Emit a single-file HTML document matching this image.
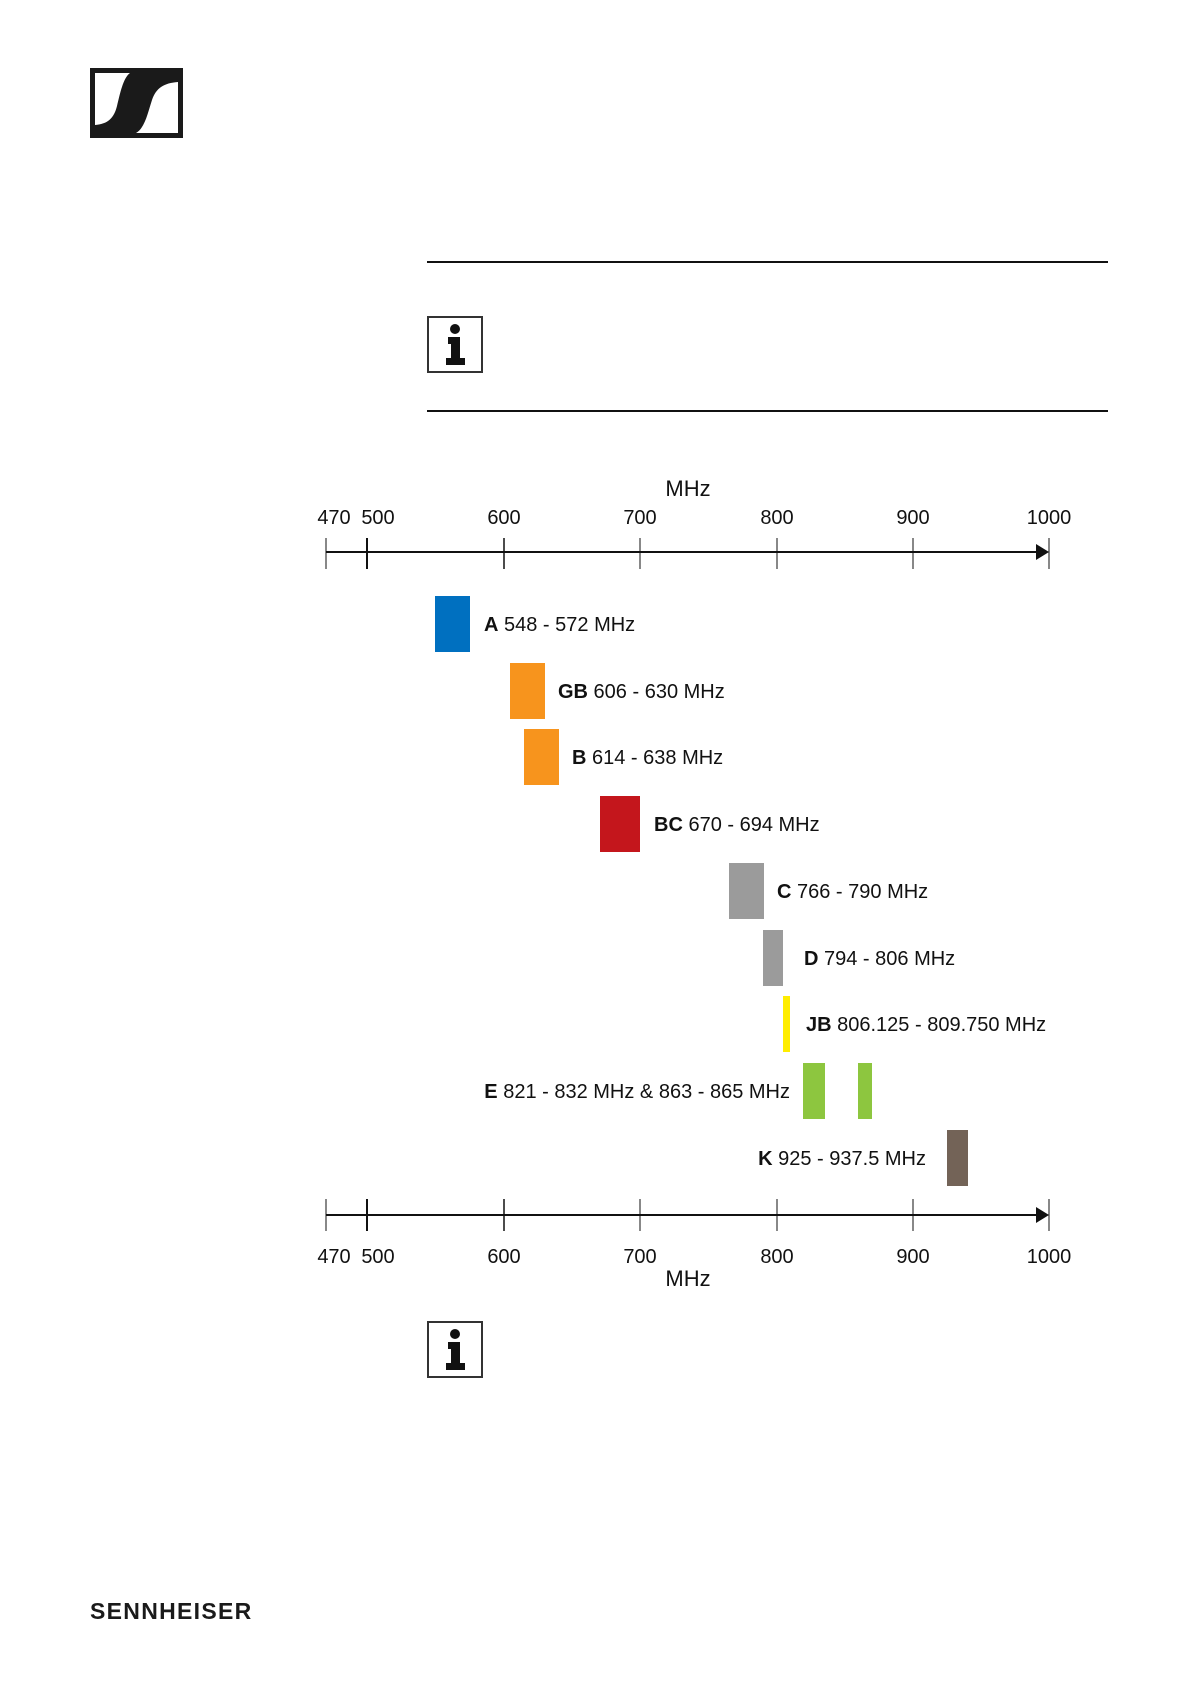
<!DOCTYPE html>
<html><head><meta charset="utf-8"><style>
body{margin:0;background:#fff;}
#p{position:relative;width:1191px;height:1684px;overflow:hidden;font-family:"Liberation Sans",sans-serif;color:#111;}
.a{position:absolute;}
.t{position:absolute;font-size:20px;white-space:nowrap;line-height:1;}
.c{transform:translateX(-50%);}
.r{transform:translateX(-100%);}
.bar{position:absolute;height:56px;}
</style></head><body><div id="p">
<svg class="a" style="left:90px;top:68px" width="93" height="70" viewBox="0 0 93 70">
<rect x="0" y="0" width="93" height="70" fill="#1a1a1a"/>
<path d="M5 5 H40 C33 10 30 26 27 38 C24 50 18 56 5 57 Z" fill="#fff"/>
<path d="M88 65 H46 C55 60 58 44 62 32 C66 20 74 15 88 14 Z" fill="#fff"/>
</svg>
<div class="a" style="left:427px;top:261px;width:681px;height:2px;background:#111"></div>
<div class="a" style="left:427px;top:410px;width:681px;height:2px;background:#111"></div>
<svg class="a" style="left:427px;top:316px" width="56" height="57"><rect x="1" y="1" width="54" height="55" fill="#fff" stroke="#333" stroke-width="2"/><circle cx="28" cy="13" r="5" fill="#111"/><path d="M21 21h12v21h5v7H19v-7h5V28h-3z" fill="#111"/></svg>
<svg class="a" style="left:427px;top:1321px" width="56" height="57"><rect x="1" y="1" width="54" height="55" fill="#fff" stroke="#333" stroke-width="2"/><circle cx="28" cy="13" r="5" fill="#111"/><path d="M21 21h12v21h5v7H19v-7h5V28h-3z" fill="#111"/></svg>

<svg class="a" style="left:0;top:0" width="1191" height="1684">
<g stroke="#111" stroke-width="2">
<line x1="326" y1="552" x2="1040" y2="552"/>
<line x1="326" y1="538" x2="326" y2="569" stroke-width="1"/>
<line x1="367" y1="538" x2="367" y2="569"/>
<line x1="504" y1="538" x2="504" y2="569" stroke-width="1.5"/>
<line x1="640" y1="538" x2="640" y2="569" stroke-width="1"/>
<line x1="777" y1="538" x2="777" y2="569" stroke-width="1"/>
<line x1="913" y1="538" x2="913" y2="569" stroke-width="1"/>
<line x1="1049" y1="538" x2="1049" y2="569" stroke-width="1"/>
<line x1="326" y1="1215" x2="1040" y2="1215"/>
<line x1="326" y1="1199" x2="326" y2="1231" stroke-width="1"/>
<line x1="367" y1="1199" x2="367" y2="1231"/>
<line x1="504" y1="1199" x2="504" y2="1231" stroke-width="1.5"/>
<line x1="640" y1="1199" x2="640" y2="1231" stroke-width="1"/>
<line x1="777" y1="1199" x2="777" y2="1231" stroke-width="1"/>
<line x1="913" y1="1199" x2="913" y2="1231" stroke-width="1"/>
<line x1="1049" y1="1199" x2="1049" y2="1231" stroke-width="1"/>
</g>
<polygon points="1036,544 1049,552 1036,560" fill="#111"/>
<polygon points="1036,1207 1049,1215 1036,1223" fill="#111"/>
</svg>

<div class="t c" style="left:688px;top:478px;font-size:22px">MHz</div>
<div class="t c" style="left:334px;top:508px">470</div>
<div class="t c" style="left:378px;top:508px">500</div>
<div class="t c" style="left:504px;top:508px">600</div>
<div class="t c" style="left:640px;top:508px">700</div>
<div class="t c" style="left:777px;top:508px">800</div>
<div class="t c" style="left:913px;top:508px">900</div>
<div class="t c" style="left:1049px;top:508px">1000</div>

<div class="t c" style="left:334px;top:1247px">470</div>
<div class="t c" style="left:378px;top:1247px">500</div>
<div class="t c" style="left:504px;top:1247px">600</div>
<div class="t c" style="left:640px;top:1247px">700</div>
<div class="t c" style="left:777px;top:1247px">800</div>
<div class="t c" style="left:913px;top:1247px">900</div>
<div class="t c" style="left:1049px;top:1247px">1000</div>
<div class="t c" style="left:688px;top:1268px;font-size:22px">MHz</div>

<div class="bar" style="left:435px;top:596px;width:35px;background:#0070c0"></div>
<div class="t" style="left:484px;top:615px"><b>A</b> 548 - 572 MHz</div>
<div class="bar" style="left:510px;top:663px;width:35px;background:#f7941d"></div>
<div class="t" style="left:558px;top:682px"><b>GB</b> 606 - 630 MHz</div>
<div class="bar" style="left:524px;top:729px;width:35px;background:#f7941d"></div>
<div class="t" style="left:572px;top:748px"><b>B</b> 614 - 638 MHz</div>
<div class="bar" style="left:600px;top:796px;width:40px;background:#c4161c"></div>
<div class="t" style="left:654px;top:815px"><b>BC</b> 670 - 694 MHz</div>
<div class="bar" style="left:729px;top:863px;width:35px;background:#9b9b9b"></div>
<div class="t" style="left:777px;top:882px"><b>C</b> 766 - 790 MHz</div>
<div class="bar" style="left:763px;top:930px;width:20px;background:#9b9b9b"></div>
<div class="t" style="left:804px;top:949px"><b>D</b> 794 - 806 MHz</div>
<div class="bar" style="left:783px;top:996px;width:7px;background:#ffed00"></div>
<div class="t" style="left:806px;top:1015px"><b>JB</b> 806.125 - 809.750 MHz</div>
<div class="bar" style="left:803px;top:1063px;width:22px;background:#8dc63f"></div>
<div class="bar" style="left:858px;top:1063px;width:14px;background:#8dc63f"></div>
<div class="t r" style="left:790px;top:1082px"><b>E</b> 821 - 832 MHz &amp; 863 - 865 MHz</div>
<div class="bar" style="left:947px;top:1130px;width:21px;background:#736357"></div>
<div class="t r" style="left:926px;top:1149px"><b>K</b> 925 - 937.5 MHz</div>

<div class="t" style="left:90px;top:1600px;font-size:23px;font-weight:bold;letter-spacing:1.3px;color:#1a1a1a">SENNHEISER</div>
</div></body></html>
